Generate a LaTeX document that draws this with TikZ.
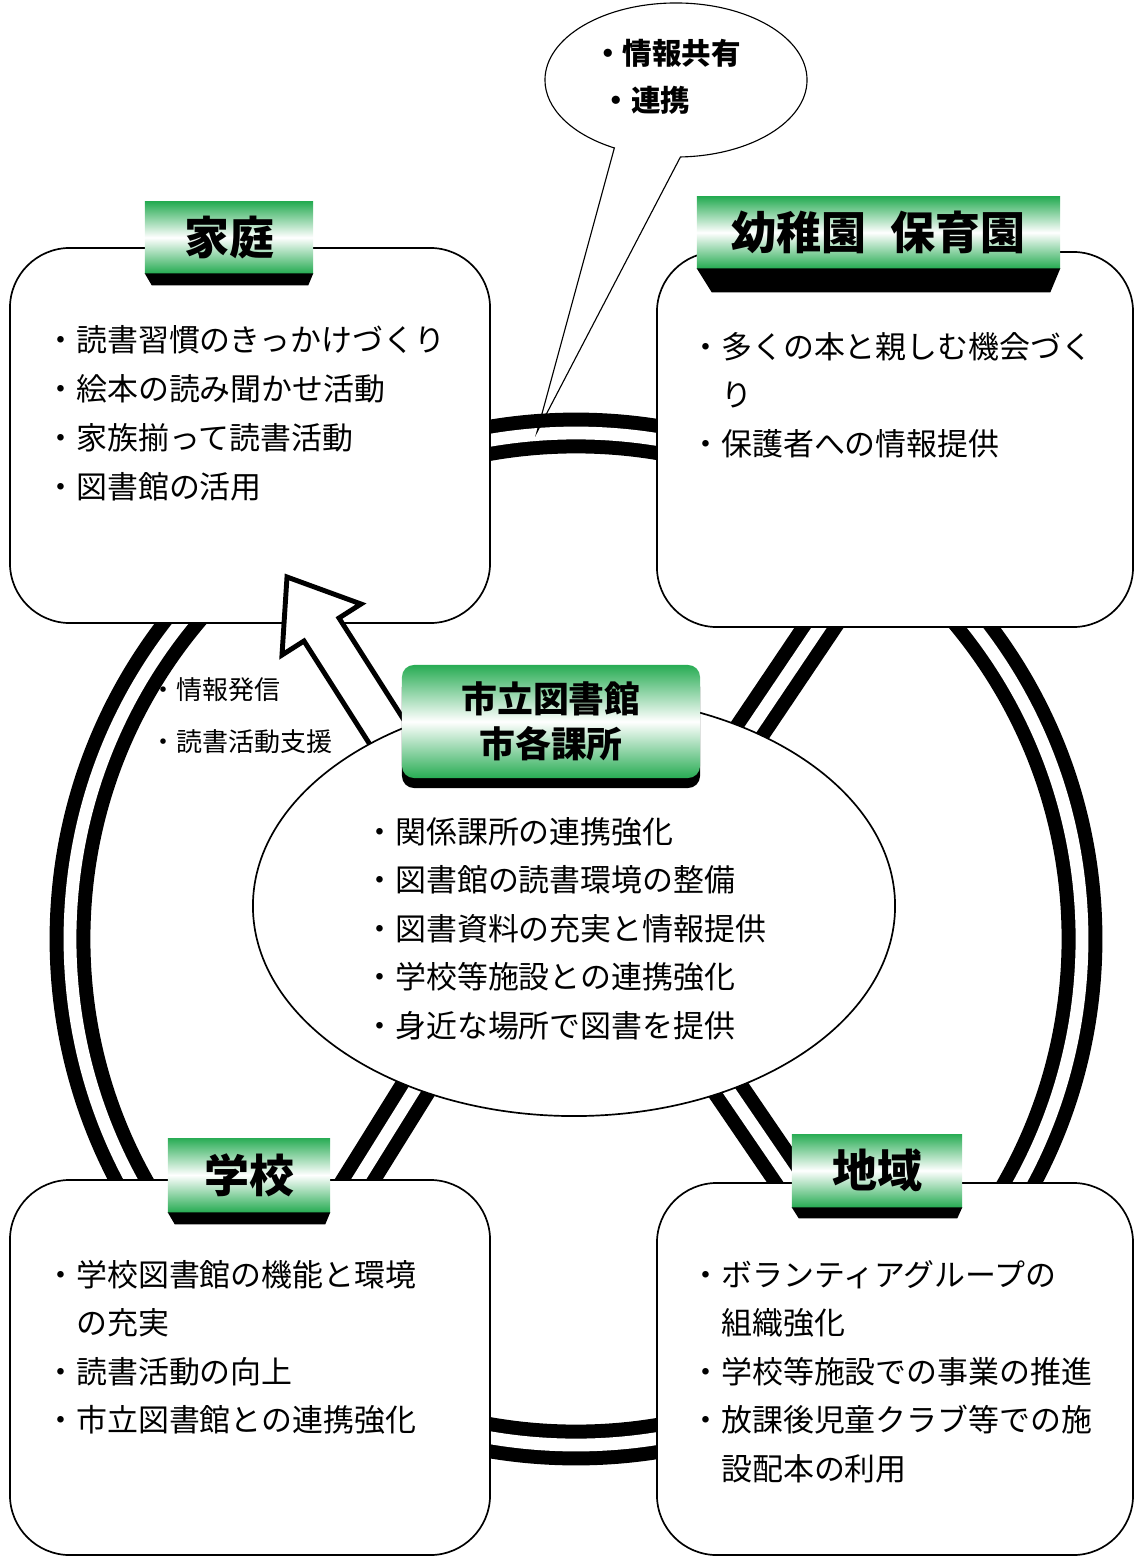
\documentclass[tikz,border=0pt]{standalone}
\usepackage{fontspec}
\setmainfont{Noto Sans CJK JP}
\usetikzlibrary{positioning,shapes.geometric,shapes.callouts,shadows,backgrounds}
\definecolor{tabgreen}{RGB}{40,172,84}

\begin{document}
\begin{tikzpicture}[
		x=0.025cm, y=-0.025cm,
		box/.style = {draw, fill=white, line width=1.2pt, rounded corners=1.5cm},
		tab/.style = {top color=tabgreen, bottom color=tabgreen, middle color=white, inner sep=0pt,
			font=\fontsize{32}{38}\selectfont\bfseries},
		ring/.style = {draw=black, double=white, line width=0.35cm, double distance=0.32cm},
		bodytext/.style = {anchor=north west, inner sep=0pt, align=left, font=\fontsize{22}{34.5}\selectfont}
	]
	\useasboundingbox (0,0) rectangle (1136,1562);
	% Four boxes.
	\node[box, minimum width=12cm, minimum height=9.375cm] (home) at (250,435.5) {};
	\node[box, minimum width=11.9cm, minimum height=9.375cm] (nursery) at (895,439.5) {};
	\node[box, minimum width=12cm, minimum height=9.375cm] (school) at (250,1367.5) {};
	\node[box, minimum width=11.9cm, minimum height=9.3cm] (community) at (895,1369) {};
	% Arrow to the home box.
	\draw[line width=3.5pt, fill=white] (287,577) -- (361,604) -- (339,618) -- (425,753)
		-- (390,776) -- (304,641) -- (282,655) -- cycle;
	% Library.
	\node[ellipse, draw, fill=white, line width=1.2pt, minimum width=16.05cm, minimum height=10.5cm] (hub) at (574,906) {};
	% Texts.
	\node[bodytext, font=\fontsize{22}{35}\selectfont] (hometext) at (45,325) {・読書習慣のきっかけづくり\\・絵本の読み聞かせ活動\\・家族揃って読書活動\\・図書館の活用};
	\node[bodytext] (nurserytext) at (690,332) {・多くの本と親しむ機会づく\\　り\\・保護者への情報提供};
	\node[bodytext] (schooltext) at (45,1260) {・学校図書館の機能と環境\\　の充実\\・読書活動の向上\\・市立図書館との連携強化};
	\node[bodytext] (communitytext) at (690,1260) {・ボランティアグループの\\　組織強化\\・学校等施設での事業の推進\\・放課後児童クラブ等での施\\　設配本の利用};
	\node[bodytext] (hubtext) at (364,817) {・関係課所の連携強化\\・図書館の読書環境の整備\\・図書資料の充実と情報提供\\・学校等施設との連携強化\\・身近な場所で図書を提供};
	\node[bodytext, font=\fontsize{18.5}{37}\selectfont] (arrowtext) at (150,677) {・情報発信\\・読書活動支援};
	% Tabs.
	\node[tab, minimum width=4.2cm, minimum height=1.775cm] (hometab) at (229,237.5) {家庭};
	\node[tab, minimum width=9.075cm, minimum height=1.775cm] (nurserytab) at (878.5,232.5) {幼稚園\hspace{0.55em}保育園};
	\node[tab, minimum width=7.45cm, minimum height=2.825cm, rounded corners=0.3cm, align=center,
		font=\fontsize{25.5}{32}\selectfont\bfseries,
		general shadow={fill=black, shadow yshift=-0.25cm}] (hubtab) at (551,721.5) {市立図書館\\市各課所};
	\node[tab, minimum width=4.05cm, minimum height=1.85cm] (schooltab) at (249,1175) {学校};
	\node[tab, minimum width=4.25cm, minimum height=1.825cm] (communitytab) at (877,1170.5) {地域};
	% Tab shadows.
	\fill (hometab.south west) -- ++(7,12) -- ([shift={(-5,12)}]hometab.south east) -- (hometab.south east) -- cycle;
	\fill (nurserytab.south west) -- ++(15,24) -- ([shift={(-10,24)}]nurserytab.south east) -- (nurserytab.south east) -- cycle;
	\fill (schooltab.south west) -- ++(7,12) -- ([shift={(-5,12)}]schooltab.south east) -- (schooltab.south east) -- cycle;
	\fill (communitytab.south west) -- ++(7,11) -- ([shift={(-5,11)}]communitytab.south east) -- (communitytab.south east) -- cycle;
	% Speech bubble.
	\coordinate (tip) at (537,432);
	\node[ellipse callout, draw, line width=0.8pt, minimum width=6.55cm, minimum height=3.85cm, inner sep=0pt,
		callout absolute pointer={(tip)}, callout pointer arc=30, align=left,
		font=\fontsize{21}{34}\selectfont\bfseries] (bubble) at (676,80) {・情報共有\kern13pt\\\kern6pt・連携\\[-27.5pt]};
	% Ring and links behind everything.
	\begin{scope}[on background layer]
		\draw[ring] (576,939) circle [radius=506];
		\draw[ring, shorten <=-0.6cm, shorten >=-0.6cm] (hub.45) -- (nursery.248);
		\draw[ring, shorten <=-0.6cm, shorten >=-0.6cm] (hub.229) -- (school.60);
		\draw[ring, shorten <=-0.6cm, shorten >=-0.6cm] (hub.310) -- (community.119);
	\end{scope}
\end{tikzpicture}
\end{document}
